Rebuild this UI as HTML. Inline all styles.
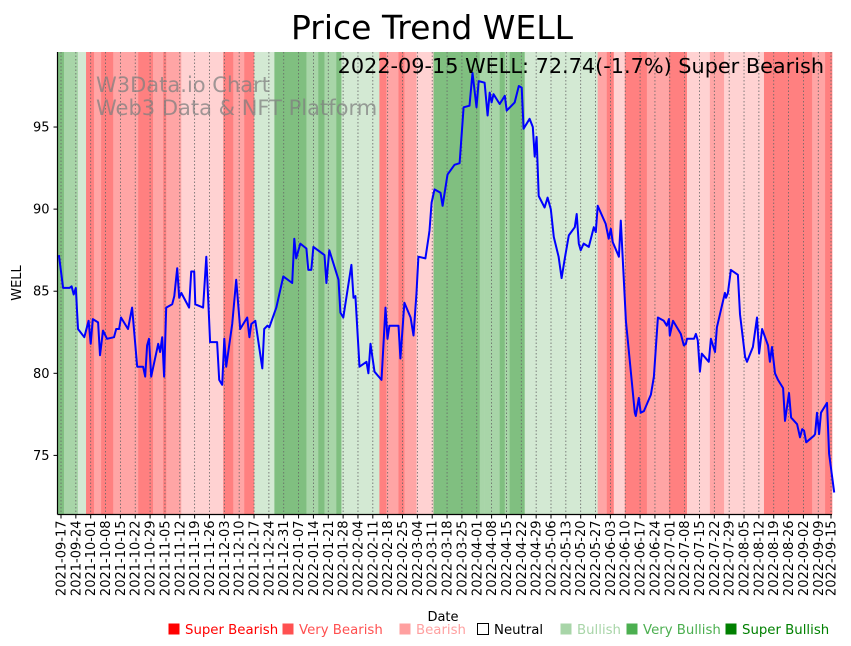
<!DOCTYPE html>
<html><head><meta charset="utf-8">
<style>
html,body{margin:0;padding:0;background:#fff;}
svg{display:block;font-family:"DejaVu Sans","Liberation Sans",sans-serif;}
</style></head>
<body>
<svg id="chart" width="851" height="646" viewBox="0 0 851 646" xmlns="http://www.w3.org/2000/svg">
<text x="432" y="39" font-size="33" text-anchor="middle" fill="#000">Price Trend WELL</text>
<g id="bands"></g>
<g id="grid"></g>
<g>
<text x="96" y="92" font-size="21" fill="#808080" fill-opacity="0.75">W3Data.io Chart</text>
<text x="96" y="115" font-size="21" fill="#808080" fill-opacity="0.75">Web3 Data &amp; NFT Platform</text>
</g>
<path id="priceLine" fill="none" stroke="#0000ff" stroke-width="2" stroke-linejoin="round"/>
<text x="824" y="73" font-size="20.8" text-anchor="end" fill="#000">2022-09-15 WELL: 72.74(-1.7%) Super Bearish</text>
<g id="yaxis"></g>
<g id="xaxis"></g>
<text transform="translate(21,283) rotate(-90)" font-size="13" text-anchor="middle">WELL</text>
<text x="443" y="621" font-size="13" text-anchor="middle">Date</text>
<g id="legend"></g>
</svg>
<script>
// ---- data ----
const startDate = "2021-09-17";
const bandStarts = [-1.5,1.4,8,11.8,15.6,18.9,24.6,36.4,43.4,48.2,49.6,56.7,76.5,81.2,86.4,91.1,100.6,115.7,121.3,124.2,129.8,132.2,150.1,153.4,159.1,161.9,167.6,175.6,197.4,199.7,206.8,209.2,211.5,213.9,218.6,253,257.3,260.6,265.8,276.2,286.6,295.1,305.9,312.6,331.4,354.1,360.2];
const bandLevels = [3,2,1,-3,-2,-3,-2,-3,-2,-3,-2,-1,-3,-2,-3,1,3,2,3,2,3,1,-3,-2,-3,-2,-1,3,2,2,3,2,3,3,1,-2,-3,-1,-3,-2,-3,-1,-2,-1,-3,-2,-3];
const bandEnd = 364.5;
const priceDays = [
-1,1,4,5,6,7,8,11,13,14,
15,17.5,18.4,19.8,21.7,25,26,27.4,28.3,31.6,
33.5,35.9,38.7,39.7,40.6,41.5,42.5,45.8,46.7,47.7,
48.6,49.6,52.4,53.4,54.8,55.7,56.7,60.4,61.4,62.8,
63.3,67,68.5,70.3,73.6,74.6,76,77,77.9,80.7,
82.6,84.5,87.8,88.8,89.7,91.6,94.9,95.8,97.3,98.2,
101.5,104.8,109,110,110.9,112.8,115.7,116.6,118,119,
124.2,125.1,126.5,130.8,131.7,133.1,136.9,137.9,138.8,140.7,
144,144.9,145.9,147.8,151.1,153,153.9,154.8,159.1,160,
161.9,164.8,166.2,167.6,168.5,171.8,173.3,173.7,174.7,176.1,
178.9,179.9,182.2,185.5,187.9,189.8,192.6,194,195.9,196.9,
199.7,201.1,202.1,203,203.9,206.8,209.2,210.1,213.9,215.8,
217.2,218.1,220.9,222.4,223.3,224.2,225.2,228,229.4,230.9,
232.3,234.6,236,237.5,239.4,242.2,243.1,244.1,245,246.4,
248.8,251.2,252.1,253,256.8,258.2,259.2,260.1,263,263.9,
266.3,270.5,271,272.4,273.3,274.8,278.1,279.5,281.4,284.2,
285.6,286.6,287,288.5,292.2,293.6,294.6,295.1,298.4,299.3,
300.2,301.2,302.1,305.4,306.4,308.3,309.2,313,313.5,314.4,
315.8,319.1,320.1,322.5,323.4,326.2,328.1,329.1,330.5,333.3,
334.2,335.2,336.6,338,340.4,341.3,343.2,344.2,347,348.4,
349.4,350.3,351.3,355,355.5,356.4,357.4,358.3,361.1,362.1,
364.5];
const priceValues = [
87.2,85.2,85.2,85.3,84.8,85.2,82.7,82.2,83.2,81.8,
83.3,83.1,81.1,82.6,82.1,82.2,82.7,82.7,83.4,82.7,
84.0,80.4,80.4,79.8,81.7,82.1,79.8,81.8,81.3,82.2,
79.8,84.0,84.2,84.7,86.4,84.6,84.9,84.0,86.2,86.2,
84.2,84.0,87.1,81.9,81.9,79.6,79.3,82.1,80.4,83.0,
85.7,82.7,83.4,82.2,83.0,83.2,80.3,82.7,82.9,82.8,
84.0,85.9,85.5,88.2,87.0,87.9,87.6,86.3,86.3,87.7,
87.2,85.5,87.5,85.7,83.7,83.4,86.6,84.6,84.7,80.4,
80.7,80.0,81.8,80.1,79.6,84.0,82.1,82.9,82.9,80.9,
84.3,83.4,82.3,84.9,87.1,87.0,88.3,88.7,90.4,91.2,
91.0,90.2,92.1,92.7,92.8,96.2,96.3,98.3,96.2,97.8,
97.7,95.7,97.1,96.5,97.0,96.4,96.9,96.0,96.5,97.5,
97.4,94.9,95.5,95.0,93.2,94.4,90.8,90.1,90.7,90.0,
88.3,87.1,85.8,87.0,88.4,88.9,89.7,87.9,87.5,87.9,
87.7,88.9,88.6,90.2,89.1,88.2,88.8,88.0,87.1,89.3,
83.2,77.6,77.4,78.5,77.6,77.7,78.7,79.8,83.4,83.2,
82.9,83.3,82.3,83.2,82.4,81.7,81.8,82.1,82.1,82.4,
82.0,80.1,81.2,80.7,82.1,81.3,82.8,84.9,84.6,84.9,
86.3,86.0,83.6,81.0,80.7,81.6,83.4,81.2,82.7,81.7,
80.7,81.6,80.0,79.6,79.1,77.1,78.8,77.3,76.9,76.1,
76.6,76.5,75.8,76.2,76.3,77.6,76.3,77.6,78.2,75.1,
72.74];
const yTicks = [75,80,85,90,95];
const legendLabels = ["Super Bearish","Very Bearish","Bearish","Neutral","Bullish","Very Bullish","Super Bullish"];
const legendColors = ["#ff0000","#ff5050","#ffa0a0","none","#a8d5a8","#4caf50","#008000"];

// ---- scales ----
const NS = "http://www.w3.org/2000/svg";
const plotL = 57.5, plotR = 832, plotT = 52, plotB = 514.5;
const x = d => 61 + d * (831 - 61) / 363;
const yMin = 71.4, yMax = 99.57;
const y = v => plotB - (v - yMin) / (yMax - yMin) * (plotB - plotT);
const bandColor = {"3":"#80bf80","2":"#a8d5a8","1":"#d3e9d3","-1":"#ffd2d2","-2":"#ffa5a5","-3":"#ff8080","0":"#ffffff"};

function mk(tag, attrs, parent){const e=document.createElementNS(NS,tag);for(const k in attrs)e.setAttribute(k,attrs[k]);parent.appendChild(e);return e;}

// bands
const bandsG = document.getElementById('bands');
for(let i=0;i<bandStarts.length;i++){
  const s = x(bandStarts[i]);
  const e = x(i+1<bandStarts.length?bandStarts[i+1]:bandEnd);
  const r = mk('rect',{x:Math.max(s,plotL),y:plotT,width:Math.max(0,Math.min(e,plotR)-Math.max(s,plotL))+0.3,height:plotB-plotT,fill:bandColor[String(bandLevels[i])]},bandsG);
  
  
}

// dates
function addDays(base,n){const d=new Date(base+"T00:00:00Z");d.setUTCDate(d.getUTCDate()+n);return d.toISOString().slice(0,10);}
const tickDays=[];for(let d=0;d<=357;d+=7)tickDays.push(d);tickDays.push(363);

const gridG=document.getElementById('grid'), xAx=document.getElementById('xaxis');
tickDays.forEach(d=>{
  const xp=x(d);
  const gl=mk('line',{x1:xp,x2:xp,y1:plotT,y2:plotB,stroke:"#666",'stroke-width':0.8,'stroke-dasharray':'1.5,2'},gridG);
  
  
  const t=mk('line',{x1:xp,x2:xp,y1:plotB,y2:plotB+4,stroke:"#000",'stroke-width':1},xAx);
  
  
  const lb=mk('text',{transform:`translate(${xp+4.5},${plotB+6}) rotate(-90)`,'font-size':13,'text-anchor':'end'},xAx);
  lb.textContent=addDays(startDate,d);
  
  
});
const xs=mk('line',{x1:plotL,x2:plotR,y1:plotB,y2:plotB,stroke:"#000",'stroke-width':1.2},xAx);



const yAx=document.getElementById('yaxis');
yTicks.forEach(v=>{
  const yp=y(v);
  const t=mk('line',{x1:plotL-4,x2:plotL,y1:yp,y2:yp,stroke:"#000",'stroke-width':1},yAx);
  
  
  const lb=mk('text',{x:plotL-8,y:yp+4.5,'font-size':13,'text-anchor':'end'},yAx);
  lb.textContent=v;
  
  
});
const ys=mk('line',{x1:plotL,x2:plotL,y1:plotT,y2:plotB,stroke:"#000",'stroke-width':1.2},yAx);



// line
document.getElementById('priceLine').setAttribute('d',priceDays.map((d,i)=>(i?'L':'M')+x(d).toFixed(1)+','+y(priceValues[i]).toFixed(1)).join(' '));

// legend
const legX=[168,282,399,477,560,626,725];
const legG=document.getElementById('legend');
legendLabels.forEach((lab,i)=>{
  const g=mk('g',{},legG);
  
  
  const isN=legendColors[i]==='none';
  mk('rect',{x:legX[i]+0.5,y:623.5,width:11,height:11,fill:isN?'#fff':legendColors[i],stroke:isN?'#000':'none','stroke-width':1},g);
  const t=mk('text',{x:legX[i]+17,y:634,'font-size':13.3,fill:isN?'#000':legendColors[i]},g);
  t.textContent=lab;
});
</script>
</body></html>
